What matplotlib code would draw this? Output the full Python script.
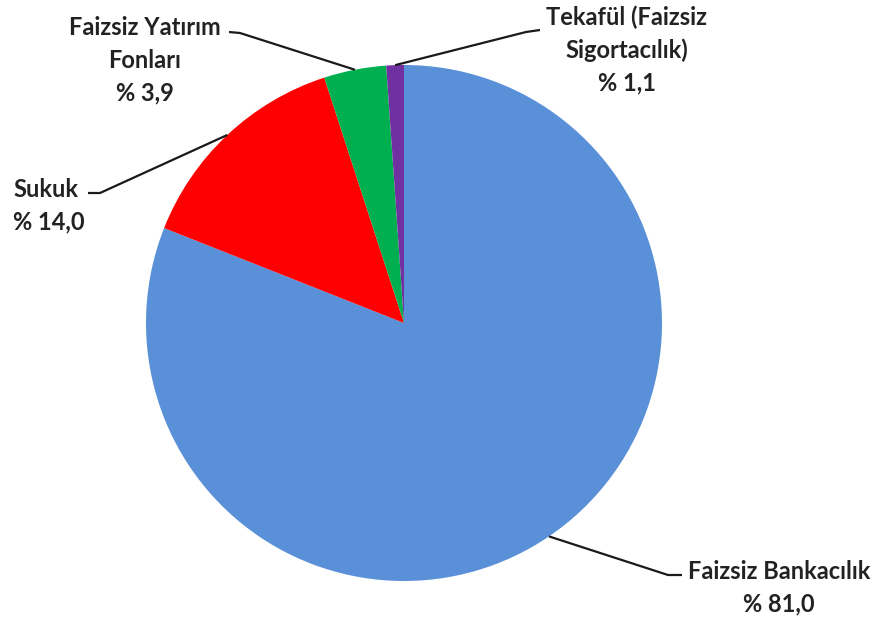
import numpy as np
import matplotlib
matplotlib.use("Agg")
from matplotlib import pyplot as plt

# data
labels = ["Faizsiz Bankacılık", "Sukuk", "Faizsiz Yatırım\nFonları", "Tekafül (Faizsiz\nSigortacılık)"]
values = [81.0, 14.0, 3.9, 1.1]
value_labels = ["% 81,0", "% 14,0", "% 3,9", "% 1,1"]
colors = ["#5A90D8", "#FF0000", "#00B050", "#7030A0"]

W, H = 889, 619
plt.rcParams["font.family"] = ["Lato", "DejaVu Sans"]

fig = plt.figure(figsize=(W / 100, H / 100), dpi=100)
ax = fig.add_axes([0, 0, 1, 1])

cx, cy, r = 404, H - 323, 258
wedges, _ = ax.pie(values, colors=colors, startangle=90, counterclock=False,
                   radius=r, center=(cx, cy), frame=True)
ax.set_xlim(0, W)
ax.set_ylim(0, H)
ax.set_aspect("equal")
ax.set_axis_off()

# label layout: text anchor (px from top-left), alignment, elbow, line end
layout = [
    dict(xy=(779, 588), ha="center", elbow=(668, 575), end=(682, 575)),
    dict(xy=(13, 206), ha="left", elbow=(100, 193), end=(88, 193)),
    dict(xy=(145, 60), ha="center", elbow=(240, 33), end=(229, 32)),
    dict(xy=(627, 50), ha="center", elbow=(526, 32), end=(540, 30)),
]

for w, lab, val, lay in zip(wedges, labels, value_labels, layout):
    mid = np.deg2rad((w.theta1 + w.theta2) / 2)
    px = cx + r * np.cos(mid)
    py = cy + r * np.sin(mid)
    ex, ey = lay["elbow"]
    fx, fy = lay["end"]
    ax.plot([px, ex, fx], [py, H - ey, H - fy], color="#1a1a1a", lw=1.6,
            solid_capstyle="butt")
    tx, ty = lay["xy"]
    ax.text(tx, H - ty, lab + "\n" + val, ha=lay["ha"], va="center",
            fontsize=17, fontweight="bold", color="#222222", linespacing=1.5,
            multialignment="center" if lay["ha"] == "center" else "left")

fig.savefig("out.png", dpi=100)
